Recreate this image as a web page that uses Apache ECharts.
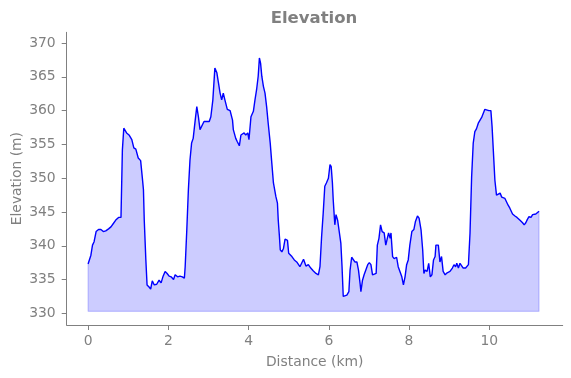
<!doctype html>
<html lang="en">
<head>
<meta charset="utf-8">
<title>Elevation</title>
<script src="https://cdn.jsdelivr.net/npm/echarts@6/dist/echarts.min.js"></script>
<style>
  html, body { margin: 0; padding: 0; background: #fff; }
  #chart { width: 571px; height: 378px; }
</style>
</head>
<body>
<div id="chart"></div>
<script>
// profile
var distanceKm = [
  0.00, 0.07, 0.11, 0.15, 0.20, 0.26, 0.32, 0.38, 0.44, 0.51, 0.57, 0.63, 0.69, 0.76, 0.82, 0.855, 0.89, 0.92, 0.96, 1.02,
  1.09, 1.14, 1.19, 1.25, 1.31, 1.35, 1.38, 1.40, 1.44, 1.47, 1.52, 1.56, 1.60, 1.65, 1.71, 1.77, 1.82, 1.87, 1.92, 1.97,
  2.02, 2.07, 2.13, 2.17, 2.23, 2.29, 2.35, 2.40, 2.42, 2.46, 2.50, 2.54, 2.58, 2.62, 2.67, 2.71, 2.75, 2.79, 2.83, 2.89,
  2.96, 3.02, 3.06, 3.11, 3.16, 3.21, 3.25, 3.29, 3.33, 3.37, 3.41, 3.47, 3.54, 3.60, 3.62, 3.68, 3.72, 3.77, 3.81, 3.85,
  3.89, 3.93, 3.98, 4.01, 4.06, 4.12, 4.16, 4.20, 4.24, 4.27, 4.30, 4.33, 4.37, 4.41, 4.45, 4.49, 4.54, 4.58, 4.62, 4.68,
  4.72, 4.74, 4.77, 4.79, 4.83, 4.87, 4.91, 4.97, 5.00, 5.08, 5.14, 5.20, 5.28, 5.37, 5.43, 5.49, 5.55, 5.61, 5.68, 5.74,
  5.78, 5.82, 5.86, 5.90, 5.94, 5.99, 6.03, 6.06, 6.09, 6.11, 6.15, 6.18, 6.22, 6.26, 6.30, 6.33, 6.36, 6.40, 6.45, 6.50,
  6.53, 6.57, 6.61, 6.65, 6.70, 6.74, 6.78, 6.80, 6.84, 6.88, 6.92, 6.97, 7.01, 7.05, 7.09, 7.13, 7.18, 7.21, 7.25, 7.29,
  7.33, 7.38, 7.42, 7.46, 7.49, 7.53, 7.55, 7.59, 7.63, 7.69, 7.73, 7.77, 7.82, 7.86, 7.90, 7.94, 7.98, 8.02, 8.07, 8.12,
  8.16, 8.21, 8.25, 8.30, 8.34, 8.37, 8.40, 8.45, 8.49, 8.53, 8.57, 8.61, 8.65, 8.67, 8.73, 8.77, 8.81, 8.85, 8.90, 8.95,
  9.02, 9.08, 9.12, 9.16, 9.19, 9.23, 9.27, 9.31, 9.35, 9.41, 9.48, 9.52, 9.56, 9.60, 9.64, 9.68, 9.73, 9.77, 9.81, 9.85,
  9.89, 9.93, 9.99, 10.04, 10.07, 10.10, 10.14, 10.18, 10.22, 10.27, 10.31, 10.35, 10.39, 10.43, 10.47, 10.51, 10.58, 10.64, 10.69, 10.76,
  10.83, 10.87, 10.91, 10.95, 10.99, 11.04, 11.08, 11.12, 11.16, 11.20, 11.24
];
var elevationM = [
  337.3, 338.6, 340.1, 340.6, 342.1, 342.4, 342.4, 342.1, 342.2, 342.5, 342.8, 343.3, 343.8, 344.2, 344.2, 354.2, 357.4, 357.6, 356.7, 356.4,
  355.7, 354.5, 354.3, 353.0, 352.6, 350.2, 348.3, 343.8, 337.9, 334.2, 333.9, 333.6, 334.8, 334.2, 334.3, 334.9, 334.5, 335.5, 336.2, 335.9,
  335.5, 335.4, 335.0, 335.7, 335.4, 335.5, 335.4, 335.2, 336.9, 342.3, 348.3, 352.7, 355.2, 355.9, 358.6, 360.6, 359.1, 357.2, 357.2, 358.4,
  358.4, 358.4, 359.1, 361.6, 366.3, 365.6, 364.1, 362.6, 361.6, 362.6, 361.6, 360.2, 360.0, 358.6, 357.2, 355.9, 355.4, 354.8, 356.4, 356.2,
  356.7, 356.4, 356.7, 355.7, 359.1, 359.9, 361.6, 363.1, 365.1, 367.8, 367.0, 365.1, 363.6, 362.6, 360.6, 358.1, 355.2, 352.2, 349.3, 347.3,
  346.3, 343.8, 341.3, 339.4, 339.1, 339.6, 341.0, 340.8, 338.9, 338.4, 337.9, 337.6, 336.9, 338.0, 337.0, 337.2, 336.7, 336.3, 335.9, 335.7,
  336.9, 341.3, 344.8, 348.8, 349.3, 350.0, 352.0, 351.7, 349.3, 346.8, 343.1, 344.6, 343.8, 343.6, 340.4, 336.9, 332.5, 332.3, 332.7, 333.2,
  336.4, 338.3, 338.1, 337.6, 337.6, 336.4, 334.4, 333.2, 334.9, 335.7, 335.5, 337.2, 337.5, 337.2, 335.7, 335.7, 335.9, 340.1, 341.1, 343.1,
  342.1, 341.9, 340.1, 339.9, 341.9, 341.1, 341.9, 338.4, 338.1, 338.3, 336.9, 336.9, 335.4, 334.2, 335.4, 337.2, 337.9, 340.1, 342.1, 342.4,
  343.6, 344.4, 344.1, 342.3, 339.4, 335.9, 336.4, 336.2, 337.4, 335.4, 335.7, 337.9, 338.4, 340.1, 340.1, 337.6, 338.4, 336.2, 335.7, 336.0,
  336.2, 336.7, 337.2, 336.9, 337.4, 336.7, 337.4, 337.4, 336.7, 336.7, 337.2, 341.9, 350.2, 355.2, 356.9, 357.3, 358.2, 358.4, 359.0, 359.1,
  360.2, 360.0, 360.0, 360.0, 357.6, 354.2, 349.7, 347.5, 347.3, 347.8, 347.2, 347.0, 347.0, 346.8, 346.0, 345.6, 344.7, 344.4, 344.2, 343.8,
  343.4, 343.1, 343.4, 343.9, 344.3, 344.2, 344.6, 344.4, 344.7, 344.7, 345.1
];
var fillBase = 330.3;
var xTicks = [0, 2, 4, 6, 8, 10];
var yTicks = [330, 335, 340, 345, 350, 355, 360, 365, 370];

var profile = distanceKm.map(function (d, i) { return [d, elevationM[i]]; });
var last = distanceKm.length - 1;
var outline = [
  [distanceKm[0], elevationM[0]],
  [distanceKm[0], fillBase],
  [distanceKm[last], fillBase],
  [distanceKm[last], elevationM[last]]
];

var grey = '#808080';
var font = 'DejaVu Sans';

var myChart = echarts.init(document.getElementById('chart'), null, { renderer: 'canvas' });
myChart.setOption({
  animation: false,
  backgroundColor: '#ffffff',
  title: {
    text: 'Elevation',
    left: 309,
    top: 5,
    textAlign: 'center',
    textStyle: { color: grey, fontFamily: font, fontSize: 16.5, fontWeight: 'bold' }
  },
  grid: { left: 66.7, right: 8.3, top: 32.3, bottom: 53, containLabel: false, outerBoundsMode: 'none' },
  xAxis: {
    type: 'value',
    min: -0.533,
    max: 11.83,
    name: 'Distance (km)',
    nameLocation: 'middle',
    nameGap: 30,
    nameMoveOverlap: false,
    nameTextStyle: { color: grey, fontFamily: font, fontSize: 13.9 },
    axisLine: { show: true, onZero: false, lineStyle: { color: grey, width: 1 } },
    axisTick: { show: true, length: 5, customValues: xTicks, lineStyle: { color: grey } },
    axisLabel: { customValues: xTicks, color: grey, fontFamily: font, fontSize: 13.9, margin: 9 },
    splitLine: { show: false }
  },
  yAxis: {
    type: 'value',
    min: 328.27,
    max: 371.6,
    name: 'Elevation (m)',
    nameLocation: 'middle',
    nameGap: 42,
    nameMoveOverlap: false,
    nameTextStyle: { color: grey, fontFamily: font, fontSize: 13.9 },
    axisLine: { show: true, onZero: false, lineStyle: { color: grey, width: 1 } },
    axisTick: { show: true, length: 5, customValues: yTicks, lineStyle: { color: grey } },
    axisLabel: { customValues: yTicks, color: grey, fontFamily: font, fontSize: 13.9, margin: 11 },
    splitLine: { show: false }
  },
  series: [
    {
      name: 'fill',
      type: 'line',
      data: profile,
      showSymbol: false,
      lineStyle: { width: 0, opacity: 0 },
      areaStyle: { color: 'rgba(0,0,255,0.2)', origin: fillBase, opacity: 1 },
      z: 1
    },
    {
      name: 'edge',
      type: 'line',
      data: outline,
      showSymbol: false,
      lineStyle: { color: 'rgba(0,0,255,0.2)', width: 1.2 },
      z: 2
    },
    {
      name: 'elevation',
      type: 'line',
      data: profile,
      showSymbol: false,
      lineStyle: { color: '#0000ff', width: 1.4 },
      z: 3
    }
  ]
});
</script>
</body>
</html>
